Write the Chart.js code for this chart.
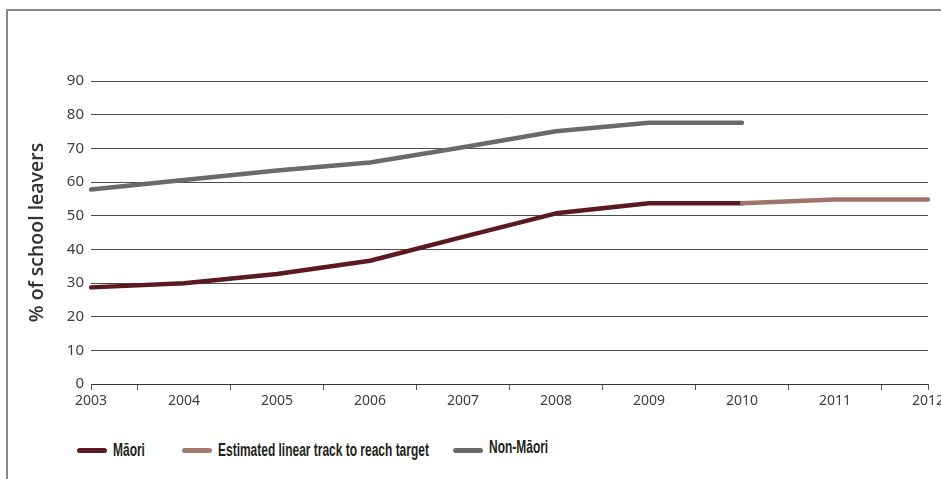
<!DOCTYPE html>
<html>
<head>
<meta charset="utf-8">
<script src="https://cdn.jsdelivr.net/npm/chart.js@4"></script>
<style>
  body { margin: 0; background: #fff; width: 941px; height: 479px; overflow: hidden; position: relative; }
  #frame { position: absolute; left: 6px; top: 9px; width: 960px; height: 500px; border-top: 2px solid #888; border-left: 2px solid #888; }
  #chart { position: absolute; left: 0; top: 0; }
  .item { position: absolute; top: 440px; display: flex; align-items: center; font-family: "Liberation Sans", sans-serif; font-weight: bold; font-size: 18px; color: #231f20; white-space: nowrap; }
  .item span.ln { display: inline-block; width: 30px; height: 5px; border-radius: 3px; margin-right: 6px; }
  .item span.tx { display: inline-block; transform: scaleX(0.665); transform-origin: left center; }
</style>
</head>
<body>
<div id="frame"></div>
<canvas id="chart" width="941" height="420"></canvas>
<div class="item" style="left:77px"><span class="ln" style="background:#5e1c22"></span><span class="tx">Māori</span></div>
<div class="item" style="left:182px"><span class="ln" style="background:#a27a70"></span><span class="tx">Estimated linear track to reach target</span></div>
<div class="item" style="left:453px;top:437px"><span class="ln" style="background:#6a6a6a;margin-top:6px"></span><span class="tx">Non-Māori</span></div>
<script>
var years = ["2003", "2004", "2005", "2006", "2007", "2008", "2009", "2010", "2011", "2012"];
var maori = [28.7, 29.9, 32.7, 36.6, 43.7, 50.7, 53.7, 53.7, null, null];
var estimatedTrack = [null, null, null, null, null, null, null, 53.7, 54.8, 54.8];
var nonMaori = [57.8, 60.6, 63.4, 65.8, 70.3, 75.1, 77.6, 77.6, null, null];
var yTicks = [0, 10, 20, 30, 40, 50, 60, 70, 80, 90];

// end tick marks on the x axis
var endTicks = {
  id: "endTicks",
  afterDraw: function (chart) {
    var x = chart.scales.x;
    var ctx = chart.ctx;
    ctx.save();
    ctx.strokeStyle = "#555";
    ctx.lineWidth = 1;
    [x.left, x.right].forEach(function (px) {
      ctx.beginPath();
      ctx.moveTo(Math.round(px) + 0.5, x.top);
      ctx.lineTo(Math.round(px) + 0.5, x.top + 6);
      ctx.stroke();
    });
    ctx.restore();
  },
};

var lineStyle = { borderWidth: 4.5, pointRadius: 0, tension: 0, borderCapStyle: "round", borderJoinStyle: "round", spanGaps: false };

new Chart(document.getElementById("chart").getContext("2d"), {
  type: "line",
  data: {
    labels: years,
    datasets: [
      Object.assign({ label: "Non-Māori", data: nonMaori, borderColor: "#6a6a6a" }, lineStyle),
      Object.assign({ label: "Estimated linear track to reach target", data: estimatedTrack, borderColor: "#a07468" }, lineStyle),
      Object.assign({ label: "Māori", data: maori, borderColor: "#5c1a1f" }, lineStyle),
    ],
  },
  options: {
    responsive: false,
    animation: false,
    devicePixelRatio: 1,
    layout: { padding: { top: 81, right: 13, bottom: 0, left: 0 } },
    plugins: { legend: { display: false }, tooltip: { enabled: false } },
    scales: {
      x: {
        offset: false,
        grid: { offset: true, drawOnChartArea: false, drawTicks: true, tickLength: 6, color: "#555" },
        border: { display: true, color: "#333", width: 1 },
        ticks: { color: "#404040", font: { family: "Noto Sans", size: 14 }, padding: 3, maxRotation: 0, autoSkip: false },
        afterFit: function (s) { s.height = 36; s.paddingLeft = 0; s.paddingRight = 0; },
      },
      y: {
        min: 0,
        max: 90,
        afterBuildTicks: function (s) { s.ticks = yTicks.map(function (v) { return { value: v }; }); },
        grid: { drawTicks: false, color: "#4d4d4d", lineWidth: 1 },
        border: { display: false },
        ticks: { color: "#404040", font: { family: "Noto Sans", size: 15 }, padding: 7 },
        title: { display: true, text: "% of school leavers", color: "#333", font: { family: "Open Sans", size: 19.5, weight: "600" }, padding: { top: 26, bottom: 0 } },
        afterFit: function (s) { s.width = 91; },
      },
    },
  },
  plugins: [endTicks],
});
</script>
</body>
</html>
